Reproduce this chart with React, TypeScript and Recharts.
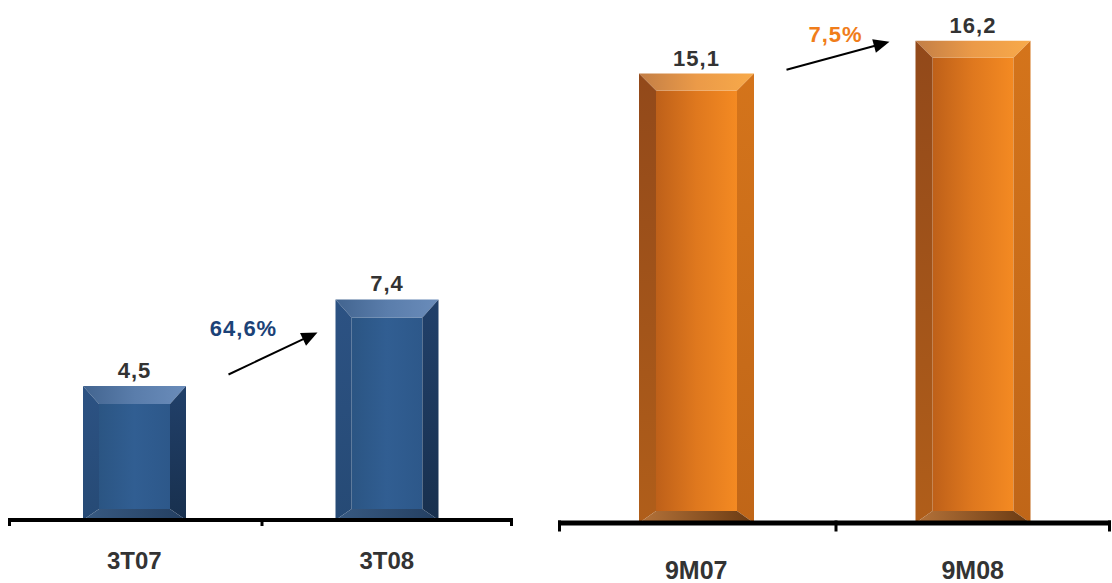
import React from "react";
import { BarChart, Bar, XAxis, YAxis, LabelList } from "recharts";

const quarterCategories = ["3T07", "3T08"];
const quarterValues = [4.5, 7.4];
const quarterGrowth = "64,6%";

const ytdCategories = ["9M07", "9M08"];
const ytdValues = [15.1, 16.2];
const ytdGrowth = "7,5%";

const FONT = "'Liberation Sans', Arial, Helvetica, sans-serif";

const fmt = (v: number) => v.toFixed(1).replace(".", ",");

type Scheme = {
  id: string;
  face: string[];
  top: string[];
  left: string[];
  right: string[];
  bottom: string[];
};

const blueScheme: Scheme = {
  id: "blue",
  face: ["#2b5583", "#315e92", "#2d588a"],
  top: ["#42648f", "#5a7dab", "#6a8cba"],
  left: ["#2c5283", "#264a75"],
  right: ["#21406a", "#18304e"],
  bottom: ["#385a82", "#243f61"],
};

const orangeScheme: Scheme = {
  id: "orange",
  face: ["#be6019", "#df781e", "#f48a22"],
  top: ["#c27e46", "#eb9a48", "#f8aa4a"],
  left: ["#92491a", "#b05e1a"],
  right: ["#d4741b", "#c06618"],
  bottom: ["#b5733a", "#6a3a12"],
};

function Gradients({ s }: { s: Scheme }) {
  const stops = (cols: string[]) =>
    cols.map((c, i) => (
      <stop key={i} offset={cols.length === 1 ? 0 : i / (cols.length - 1)} stopColor={c} />
    ));
  return (
    <defs>
      <linearGradient id={`${s.id}-face`} x1="0" y1="0" x2="1" y2="0">{stops(s.face)}</linearGradient>
      <linearGradient id={`${s.id}-top`} x1="0" y1="0" x2="1" y2="0">{stops(s.top)}</linearGradient>
      <linearGradient id={`${s.id}-left`} x1="0" y1="0" x2="0" y2="1">{stops(s.left)}</linearGradient>
      <linearGradient id={`${s.id}-right`} x1="0" y1="0" x2="0" y2="1">{stops(s.right)}</linearGradient>
      <linearGradient id={`${s.id}-bottom`} x1="0" y1="0" x2="1" y2="0">{stops(s.bottom)}</linearGradient>
    </defs>
  );
}

function makeBevelShape(schemeId: string, side: number, topB: number, botB: number) {
  return (props: any) => {
    const { x, y, width: w, height: h } = props;
    if (!w || !h) return <g />;
    const p = (pts: number[][]) => pts.map((q) => q.join(",")).join(" ");
    return (
      <g>
        <rect x={x + side} y={y + topB} width={w - 2 * side} height={h - topB - botB} fill={`url(#${schemeId}-face)`} />
        <polygon points={p([[x, y], [x + w, y], [x + w - side, y + topB], [x + side, y + topB]])} fill={`url(#${schemeId}-top)`} />
        <polygon points={p([[x, y], [x + side, y + topB], [x + side, y + h - botB], [x, y + h]])} fill={`url(#${schemeId}-left)`} />
        <polygon points={p([[x + w, y], [x + w, y + h], [x + w - side, y + h - botB], [x + w - side, y + topB]])} fill={`url(#${schemeId}-right)`} />
        <polygon points={p([[x, y + h], [x + side, y + h - botB], [x + w - side, y + h - botB], [x + w, y + h]])} fill={`url(#${schemeId}-bottom)`} />
      </g>
    );
  };
}

type GrowthCfg = {
  text: string;
  color: string;
  tail: [number, number];
  tip: [number, number];
  label: [number, number];
};

function makeGrowthLabel(cfg: GrowthCfg) {
  return (props: any) => {
    const { x, y, index } = props;
    if (index !== 1) return null;
    const tx = x + cfg.tail[0];
    const ty = y + cfg.tail[1];
    const hx = x + cfg.tip[0];
    const hy = y + cfg.tip[1];
    const dx = hx - tx;
    const dy = hy - ty;
    const len = Math.sqrt(dx * dx + dy * dy);
    const ux = dx / len;
    const uy = dy / len;
    const L = 16;
    const W = 7;
    const bx = hx - ux * L;
    const by = hy - uy * L;
    const head = `${hx},${hy} ${bx - uy * W},${by + ux * W} ${bx + uy * W},${by - ux * W}`;
    return (
      <g>
        <line x1={tx} y1={ty} x2={bx + ux * 2} y2={by + uy * 2} stroke="#000" strokeWidth={2} />
        <polygon points={head} fill="#000" />
        <text
          x={x + cfg.label[0]}
          y={y + cfg.label[1]}
          textAnchor="middle"
          fontFamily={FONT}
          fontWeight="bold"
          fontSize={22}
          letterSpacing={1}
          fill={cfg.color}
        >
          {cfg.text}
        </text>
      </g>
    );
  };
}

const valueLabel = (props: any) => {
  const { x, y, width, value } = props;
  return (
    <text
      x={x + width / 2}
      y={y - 8}
      textAnchor="middle"
      fontFamily={FONT}
      fontWeight="bold"
      fontSize={22}
      letterSpacing={1}
      fill="#333333"
    >
      {fmt(Number(value))}
    </text>
  );
};

type PanelProps = {
  categories: string[];
  values: number[];
  domainMax: number;
  scheme: Scheme;
  growth: GrowthCfg;
  left: number;
  width: number;
  margin: { top: number; right: number; bottom: number; left: number };
  axisHeight: number;
  barSize: number;
  bevel: [number, number, number];
  axisWidth: number;
  tickLen: number;
  catFont: number;
  catDy: number;
};

function Panel(p: PanelProps) {
  const data = p.categories.map((c, i) => ({ cat: c, value: p.values[i] }));
  const shape = makeBevelShape(p.scheme.id, p.bevel[0], p.bevel[1], p.bevel[2]);
  const growthLabel = makeGrowthLabel(p.growth);
  const n = p.categories.length;
  const catTick = (t: any) => {
    const off = t.payload && typeof t.payload.offset === "number" ? t.payload.offset : 0;
    const idx = t.index ?? 0;
    const x0 = t.x - off;
    const x1 = t.x + off;
    const yTop = t.y - p.axisWidth / 2;
    const yBot = t.y + p.axisWidth / 2 + p.tickLen;
    return (
      <g>
        <line x1={x0 + 1.5} y1={yTop} x2={x0 + 1.5} y2={yBot} stroke="#000" strokeWidth={3} />
        {idx === n - 1 ? (
          <line x1={x1 - 1.5} y1={yTop} x2={x1 - 1.5} y2={yBot} stroke="#000" strokeWidth={3} />
        ) : null}
        <text
          x={t.x}
          y={t.y + p.catDy}
          textAnchor="middle"
          fontFamily={FONT}
          fontWeight="bold"
          fontSize={p.catFont}
          fill="#333333"
        >
          {t.payload.value}
        </text>
      </g>
    );
  };
  return (
    <div style={{ position: "absolute", left: p.left, top: 0 }}>
      <BarChart width={p.width} height={583} data={data} margin={p.margin}>
        <Gradients s={p.scheme} />
        <YAxis hide domain={[0, p.domainMax]} allowDataOverflow />
        <Bar dataKey="value" barSize={p.barSize} shape={shape} isAnimationActive={false}>
          <LabelList dataKey="value" content={valueLabel} />
          <LabelList dataKey="value" content={growthLabel} />
        </Bar>
        <XAxis
          dataKey="cat"
          height={p.axisHeight}
          axisLine={{ stroke: "#000", strokeWidth: p.axisWidth }}
          tickLine={false}
          tickSize={0}
          tickMargin={0}
          tick={catTick}
          interval={0}
        />
      </BarChart>
    </div>
  );
}

export default function App() {
  return (
    <div style={{ position: "absolute", left: 0, top: 0, width: 1112, height: 583, background: "#fff", overflow: "hidden" }}>
      <Panel
        categories={quarterCategories}
        values={quarterValues}
        domainMax={10}
        scheme={blueScheme}
        growth={{ text: quarterGrowth, color: "#1b4277", tail: [-107, 75], tip: [-18, 33], label: [-92, 37] }}
        left={0}
        width={560}
        margin={{ top: 222, right: 47, bottom: 3, left: 8 }}
        axisHeight={60}
        barSize={103}
        bevel={[16, 18, 11]}
        axisWidth={4}
        tickLen={4}
        catFont={24}
        catDy={49}
      />
      <Panel
        categories={ytdCategories}
        values={ytdValues}
        domainMax={17}
        scheme={orangeScheme}
        growth={{ text: ytdGrowth, color: "#f07d1a", tail: [-129, 29], tip: [-26, 1], label: [-80, 1] }}
        left={540}
        width={572}
        margin={{ top: 17, right: 1, bottom: 0, left: 18 }}
        axisHeight={60}
        barSize={115}
        bevel={[17, 17, 12]}
        axisWidth={5}
        tickLen={6}
        catFont={25}
        catDy={56}
      />
    </div>
  );
}
